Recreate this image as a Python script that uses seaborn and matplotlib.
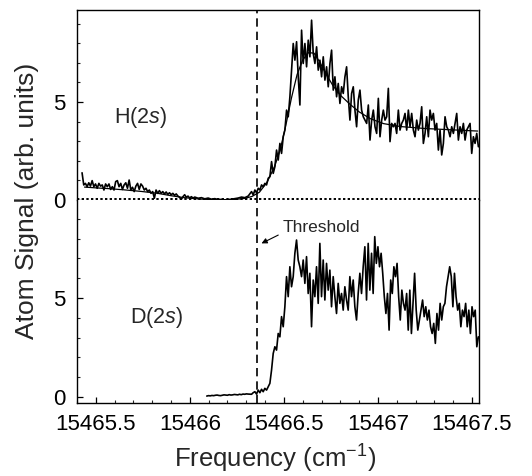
import numpy as np
import matplotlib
matplotlib.use("Agg")
import matplotlib.pyplot as plt
from matplotlib.ticker import MultipleLocator, FuncFormatter
import seaborn as sns

# H(2s) trace in segments of evenly spaced points
h_seg1_x = (15465.427, 15466.026)
h_seg1_y = [1.39, 0.77, 0.85, 0.68, 0.88, 0.71, 0.99, 0.68, 0.82, 0.60, 0.85, 0.71,
            0.77, 0.51, 0.82, 0.68, 0.82, 0.54, 0.68, 0.51, 0.94, 0.99, 0.68, 0.85,
            0.54, 0.77, 0.88, 0.60, 1.02, 0.51, 0.65, 0.43, 0.71, 0.85, 0.54, 0.82,
            0.71, 0.51, 0.60, 0.43, 0.51, 0.34, 0.43, 0.09, 0.51, 0.34, 0.48, 0.34,
            0.43, 0.31, 0.41, 0.29, 0.37, 0.27, 0.34, 0.24, 0.31, 0.20, 0.14, 0.03,
            0.17, 0.27, 0.14, 0.20, 0.10, 0.17, 0.10, 0.15]
h_seg2_x = (15466.044, 15466.310)
h_seg2_y = [0.09, 0.12, 0.06, 0.10, 0.04, 0.07, 0.02, 0.03, 0.00, 0.02, 0.04, 0.07,
            0.10, 0.15, 0.12, 0.20]
h_seg3_x = (15466.328, 15466.922)
h_seg3_y = [0.43, 0.26, 0.51, 0.37, 0.60, 0.51, 0.77, 0.68, 0.85, 0.77, 1.11, 1.19,
            1.96, 1.36, 1.70, 2.55, 2.04, 2.89, 2.38, 3.23, 3.57, 4.59, 4.25, 5.27,
            6.63, 7.99, 7.14, 8.08, 6.29, 4.85, 8.67, 6.97, 7.99, 6.80, 8.16, 7.31,
            9.18, 7.48, 6.97, 7.82, 6.63, 7.14, 6.29, 7.31, 6.12, 6.80, 5.78, 6.97,
            7.65, 5.61, 6.29, 5.27, 5.95, 4.93, 5.78, 5.44, 6.29, 6.80, 5.27, 4.08,
            5.44, 5.78, 4.59, 3.74, 5.10, 5.61, 4.59, 4.25]
h_seg4_x = (15466.940, 15467.534)
h_seg4_y = [3.91, 4.85, 3.06, 4.08, 4.59, 3.74, 3.40, 5.19, 3.23, 4.08, 4.59, 4.08,
            4.25, 5.70, 2.98, 3.91, 3.74, 3.91, 3.40, 4.59, 3.57, 3.91, 4.08, 4.42,
            3.57, 4.59, 3.74, 4.42, 3.57, 3.23, 4.08, 3.57, 3.91, 4.76, 2.89, 3.40,
            4.25, 3.23, 4.59, 4.08, 4.42, 3.57, 3.91, 2.55, 3.57, 2.30, 2.89, 4.25,
            3.74, 3.57, 3.23, 3.74, 3.40, 3.91, 4.42, 3.06, 3.74, 3.40, 3.91, 3.06,
            3.57, 3.74, 3.91, 2.38, 3.23, 2.89, 3.40, 2.72]

# smooth fit through the H(2s) data
fit_x = [15465.44, 15465.50, 15465.57, 15465.65, 15465.74, 15465.83, 15465.90,
         15465.97, 15466.05, 15466.10, 15466.18, 15466.24, 15466.29, 15466.33,
         15466.37, 15466.41, 15466.45, 15466.48, 15466.51, 15466.54, 15466.57,
         15466.60, 15466.63, 15466.66, 15466.69, 15466.72, 15466.76, 15466.80,
         15466.85, 15466.90, 15466.96, 15467.03, 15467.12, 15467.25, 15467.40,
         15467.53]
fit_y = [0.66, 0.62, 0.58, 0.52, 0.44, 0.34, 0.22, 0.12, 0.05, 0.03, 0.02, 0.03,
         0.08, 0.18, 0.40, 0.90, 1.70, 2.55, 3.80, 5.20, 6.40, 7.15, 7.52, 7.50,
         7.05, 6.50, 5.85, 5.35, 4.90, 4.50, 4.15, 3.90, 3.75, 3.65, 3.58, 3.52]

# D(2s) trace
d_seg1_x = (15466.09, 15466.31)
d_seg1_y = [0.05, 0.07, 0.06, 0.08, 0.07, 0.09, 0.10, 0.08, 0.07, 0.09, 0.11, 0.10,
            0.09, 0.12, 0.10, 0.11, 0.13, 0.12, 0.11, 0.14, 0.12, 0.15, 0.14, 0.16,
            0.15]
d_seg2_x = (15466.328, 15466.957)
d_seg2_y = [0.14, 0.22, 0.27, 0.15, 0.35, 0.22, 0.39, 0.27, 0.44, 0.35, 0.52, 0.69,
            1.36, 2.20, 2.54, 2.37, 3.21, 3.04, 4.06, 3.55, 4.56, 6.08, 5.07, 6.58,
            5.57, 6.08, 7.26, 7.93, 6.92, 6.58, 6.08, 6.92, 5.74, 7.09, 5.23, 6.25,
            3.55, 5.91, 5.07, 6.58, 4.73, 7.76, 5.07, 6.92, 4.90, 6.75, 5.40, 6.41,
            4.56, 6.08, 5.07, 4.22, 5.74, 4.73, 5.23, 4.39, 5.57, 4.90, 4.39, 6.08,
            5.07, 5.91, 4.56, 3.89, 5.23, 6.25, 5.23, 6.58, 7.59, 4.90, 7.76, 5.40]
d_seg3_x = (15466.966, 15467.534)
d_seg3_y = [7.26, 5.23, 8.10, 6.75, 7.59, 6.58, 7.26, 6.25, 5.07, 4.22, 5.23, 3.38,
            5.91, 5.23, 6.58, 6.08, 6.75, 5.07, 3.89, 5.40, 4.73, 4.39, 5.23, 3.38,
            5.40, 3.21, 4.73, 6.25, 4.39, 3.38, 3.89, 4.39, 4.90, 4.06, 4.56, 3.89,
            4.39, 3.55, 3.21, 3.72, 2.71, 4.22, 3.38, 4.73, 3.89, 4.56, 4.73, 5.57,
            6.08, 6.58, 6.08, 4.56, 6.25, 5.07, 4.39, 4.73, 3.55, 4.39, 4.06, 4.73,
            3.55, 4.39, 3.21, 4.56, 4.06, 4.39, 2.54, 3.04]

threshold = 15466.356


def trace(segments):
    xs = np.concatenate([np.linspace(a, b, len(v)) for (a, b), v in segments])
    ys = np.concatenate([np.asarray(v, float) for _, v in segments])
    return xs, ys


h_x, h_y = trace([(h_seg1_x, h_seg1_y), (h_seg2_x, h_seg2_y),
                  (h_seg3_x, h_seg3_y), (h_seg4_x, h_seg4_y)])
d_x, d_y = trace([(d_seg1_x, d_seg1_y), (d_seg2_x, d_seg2_y), (d_seg3_x, d_seg3_y)])

sns.set_theme(style="ticks")
plt.rcParams["font.family"] = ["Liberation Sans", "DejaVu Sans"]
plt.rcParams["mathtext.fontset"] = "custom"
plt.rcParams["mathtext.rm"] = "Liberation Sans"
plt.rcParams["mathtext.it"] = "Liberation Sans:italic"

fig = plt.figure(figsize=(5.32, 4.76), dpi=100)
ax_h = fig.add_axes([0.1447, 0.5798, 0.7556, 0.3992])
ax_d = fig.add_axes([0.1447, 0.1534, 0.7556, 0.4264], sharex=ax_h)

sns.lineplot(x=h_x, y=h_y, ax=ax_h, color="black", lw=1.2, estimator=None, sort=False)
sns.lineplot(x=fit_x, y=fit_y, ax=ax_h, color="black", lw=0.9, estimator=None, sort=False)
sns.lineplot(x=d_x, y=d_y, ax=ax_d, color="black", lw=1.2, estimator=None, sort=False)

# dotted zero line of the H(2s) trace, which also splits the two panels
ax_h.axhline(0.03, color="black", lw=1.4, ls=(0, (1.2, 1.2)), clip_on=False, zorder=5)
for ax in (ax_h, ax_d):
    ax.axvline(threshold, color="black", lw=1.2, ls=(0, (5, 3)))
    ax.yaxis.set_major_locator(MultipleLocator(5))
    ax.yaxis.set_minor_locator(MultipleLocator(1))
    ax.tick_params(axis="both", which="major", direction="in", length=4,
                   width=0.9, labelsize=16, pad=8, colors="black")
    ax.tick_params(axis="both", which="minor", direction="in", length=2.5, width=0.8)
    for s in ax.spines.values():
        s.set_linewidth(1.0)
        s.set_color("black")
    ax.set_xlabel("")
    ax.set_ylabel("")

ax_h.set_ylim(0, 9.7)
ax_d.set_ylim(-0.3, 9.95)
ax_h.spines["bottom"].set_visible(False)
ax_d.spines["top"].set_visible(False)
ax_h.tick_params(axis="x", which="both", bottom=False, labelbottom=False)

ax_d.set_xlim(15465.4, 15467.537)
ax_d.xaxis.set_major_locator(MultipleLocator(0.5))
ax_d.xaxis.set_minor_locator(MultipleLocator(0.1))
ax_d.xaxis.set_major_formatter(FuncFormatter(lambda v, p: f"{v:g}"))

ax_h.text(15465.74, 4.23, "H(2$s$)", fontsize=15.5, ha="center", va="center")
ax_d.text(15465.824, 4.0, "D(2$s$)", fontsize=15.5, ha="center", va="center")
ax_d.text(15466.697, 8.56, "Threshold", fontsize=12.5, ha="center", va="center")
ax_d.annotate("", xy=(15466.381, 7.76), xytext=(15466.47, 8.18),
              arrowprops=dict(arrowstyle="-|>", color="black", lw=0.8,
                              mutation_scale=8, shrinkA=0, shrinkB=0))

fig.text(0.517, 0.0168, "Frequency (cm$^{-1}$)", fontsize=18.5, ha="center", va="baseline")
fig.text(0.051, 0.577, "Atom Signal (arb. units)", fontsize=19, rotation=90,
         ha="center", va="center")

fig.savefig("out.png", dpi=100)
